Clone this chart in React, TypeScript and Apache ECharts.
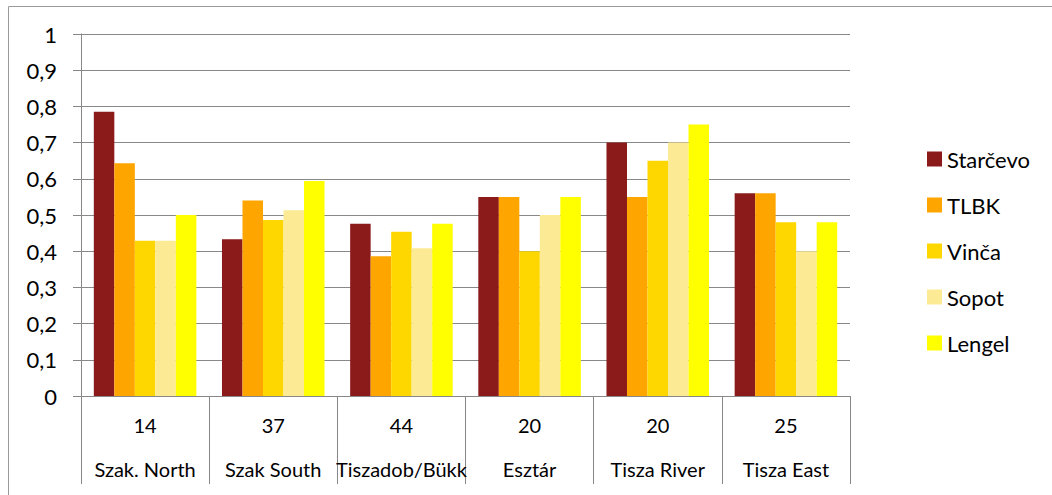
import React, { useEffect, useRef } from "react";
import * as echarts from "echarts";

// Sites along the x axis, with the sample count shown above each name
const categories = ["Szak. North", "Szak South", "Tiszadob/Bükk", "Esztár", "Tisza River", "Tisza East"];
const sampleCounts = [14, 37, 44, 20, 20, 25];

// Similarity values per culture group
const starcevo = [0.785, 0.433, 0.476, 0.55, 0.7, 0.56];
const tlbk = [0.643, 0.54, 0.386, 0.55, 0.55, 0.56];
const vinca = [0.429, 0.486, 0.454, 0.4, 0.65, 0.48];
const sopot = [0.429, 0.513, 0.408, 0.5, 0.7, 0.4];
const lengel = [0.5, 0.594, 0.476, 0.55, 0.75, 0.48];

const seriesNames = ["Starčevo", "TLBK", "Vinča", "Sopot", "Lengel"];
const seriesData = [starcevo, tlbk, vinca, sopot, lengel];
const seriesColors = ["#8B1A1A", "#FFA500", "#FFD700", "#FDEA94", "#FFFF00"];

const FONT = "Lato, 'Open Sans', sans-serif";

export default function App() {
  const ref = useRef<HTMLDivElement>(null);

  useEffect(() => {
    if (!ref.current) return;
    const chart = echarts.init(ref.current, null, { renderer: "svg" });
    chart.setOption({
      animation: false,
      backgroundColor: "#ffffff",
      textStyle: { fontFamily: FONT, color: "#000" },
      graphic: [
        {
          type: "rect",
          shape: { x: 8.5, y: 6.5, width: 1100, height: 600 },
          style: { fill: "none", stroke: "#9a9a9a", lineWidth: 1 },
          silent: true,
        },
      ],
      grid: { left: 81, right: 202, top: 34, bottom: 99 },
      legend: {
        orient: "vertical",
        left: 927,
        top: 148,
        padding: 0,
        icon: "rect",
        itemWidth: 15,
        itemHeight: 15,
        itemGap: 24,
        data: seriesNames,
        textStyle: { fontFamily: FONT, fontSize: 22, color: "#000", lineHeight: 22 },
      },
      xAxis: {
        type: "category",
        data: categories,
        axisLine: { show: true, lineStyle: { color: "#888", width: 1 } },
        axisTick: { show: true, length: 88, lineStyle: { color: "#888", width: 1 } },
        axisLabel: {
          interval: 0,
          margin: 7,
          formatter: (value: string, idx: number) => `{n|${sampleCounts[idx]}}\n{c|${value}}`,
          rich: {
            n: { fontFamily: FONT, fontSize: 20, color: "#000", lineHeight: 44 },
            c: { fontFamily: FONT, fontSize: 20, color: "#000", lineHeight: 44 },
          },
        },
      },
      yAxis: {
        type: "value",
        min: 0,
        max: 1,
        interval: 0.1,
        axisLine: { show: true, lineStyle: { color: "#888", width: 1 } },
        axisTick: { show: true, length: 8, lineStyle: { color: "#888", width: 1 } },
        splitLine: { show: true, lineStyle: { color: "#888", width: 1 } },
        axisLabel: {
          margin: 24,
          fontFamily: FONT,
          fontSize: 22,
          color: "#000",
          formatter: (v: number) => (Number.isInteger(v) ? String(v) : v.toFixed(1).replace(".", ",")),
        },
      },
      series: seriesNames.map((name, i) => ({
        name,
        type: "bar",
        data: seriesData[i],
        barGap: "0%",
        barCategoryGap: "20%",
        itemStyle: { color: seriesColors[i] },
      })),
    });
    return () => chart.dispose();
  }, []);

  return (
    <div
      ref={ref}
      style={{ position: "fixed", left: 0, top: 0, width: 1052, height: 495 }}
    />
  );
}
